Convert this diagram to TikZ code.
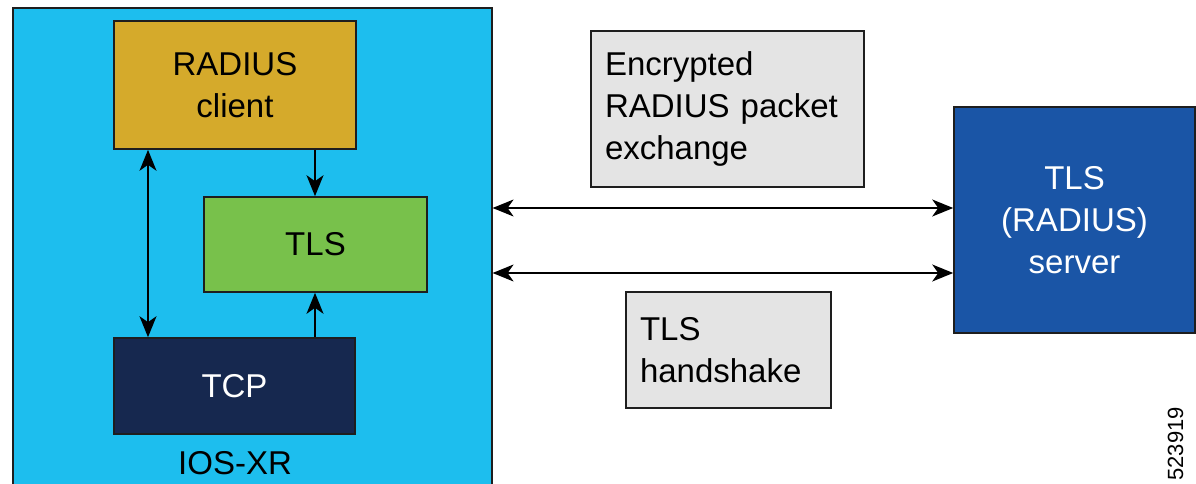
\documentclass[tikz,border=0pt]{standalone}
\usepackage{fontspec}
\setmainfont{Liberation Sans}
\usetikzlibrary{arrows.meta}
\definecolor{iosblue}{HTML}{1DBEEE}
\definecolor{gold}{HTML}{D5AA2B}
\definecolor{tlsgreen}{HTML}{78C14B}
\definecolor{navy}{HTML}{16284F}
\definecolor{srvblue}{HTML}{1A55A6}
\definecolor{lgray}{HTML}{E4E4E4}
\definecolor{edge}{HTML}{1E1E1E}
\begin{document}
\begin{tikzpicture}[x=1pt,y=-1pt,
  box/.style={draw=edge, line width=1.6pt, inner sep=0pt, align=center,
    font=\fontsize{33}{42}\selectfont},
  graybox/.style={draw=edge, line width=1.6pt, fill=lgray, inner sep=14pt, align=left,
    font=\fontsize{33}{42}\selectfont},
  tip/.tip={Stealth[length=21pt,width=17pt,inset=6pt]},
  conn/.style={line width=1.6pt, -tip},
  dconn/.style={line width=1.6pt, tip-tip}
]
\useasboundingbox (0,0) rectangle (1196,484);
% IOS-XR container
\node[draw=edge, line width=1.6pt, fill=iosblue, minimum width=479pt, minimum height=500pt, inner sep=0pt, anchor=north west] (ios) at (12,7) {};
\node[font=\fontsize{33}{42}\selectfont, inner sep=0pt] (iosl) at (235,463) {IOS-XR};
% inner boxes
\node[box, fill=gold, minimum width=242pt, minimum height=128pt] (rc) at (235,85) {RADIUS\\client};
\node[box, fill=tlsgreen, minimum width=223pt, minimum height=95pt] (tls) at (315.5,244.5) {TLS};
\node[box, fill=navy, text=white, minimum width=241pt, minimum height=96pt] (tcp) at (234.5,386) {TCP};
% inner arrows
\draw[dconn] (rc.south -| 148,0) -- (tcp.north -| 148,0);
\draw[conn] (rc.south -| 315,0) -- (tls.north -| 315,0);
\draw[conn] (tcp.north -| 315,0) -- (tls.south -| 315,0);
% server
\node[box, fill=srvblue, text=white, minimum width=241pt, minimum height=226pt] (srv) at (1074.5,220) {TLS\\(RADIUS)\\server};
% labels
\node[graybox, text width=245pt, minimum height=156pt] (enc) at (727.5,109) {Encrypted\\RADIUS packet\\exchange};
\node[graybox, text width=177pt, minimum height=116pt] (hs) at (728.5,350) {TLS\\handshake};
% external arrows
\draw[dconn] (ios.east |- 0,208) -- (srv.west |- 0,208);
\draw[dconn] (ios.east |- 0,273) -- (srv.west |- 0,273);
% figure number
\node[rotate=90, anchor=east, inner sep=0pt, font=\fontsize{22}{24}\selectfont] (fig) at (1175.5,407) {523919};
\end{tikzpicture}
\end{document}
